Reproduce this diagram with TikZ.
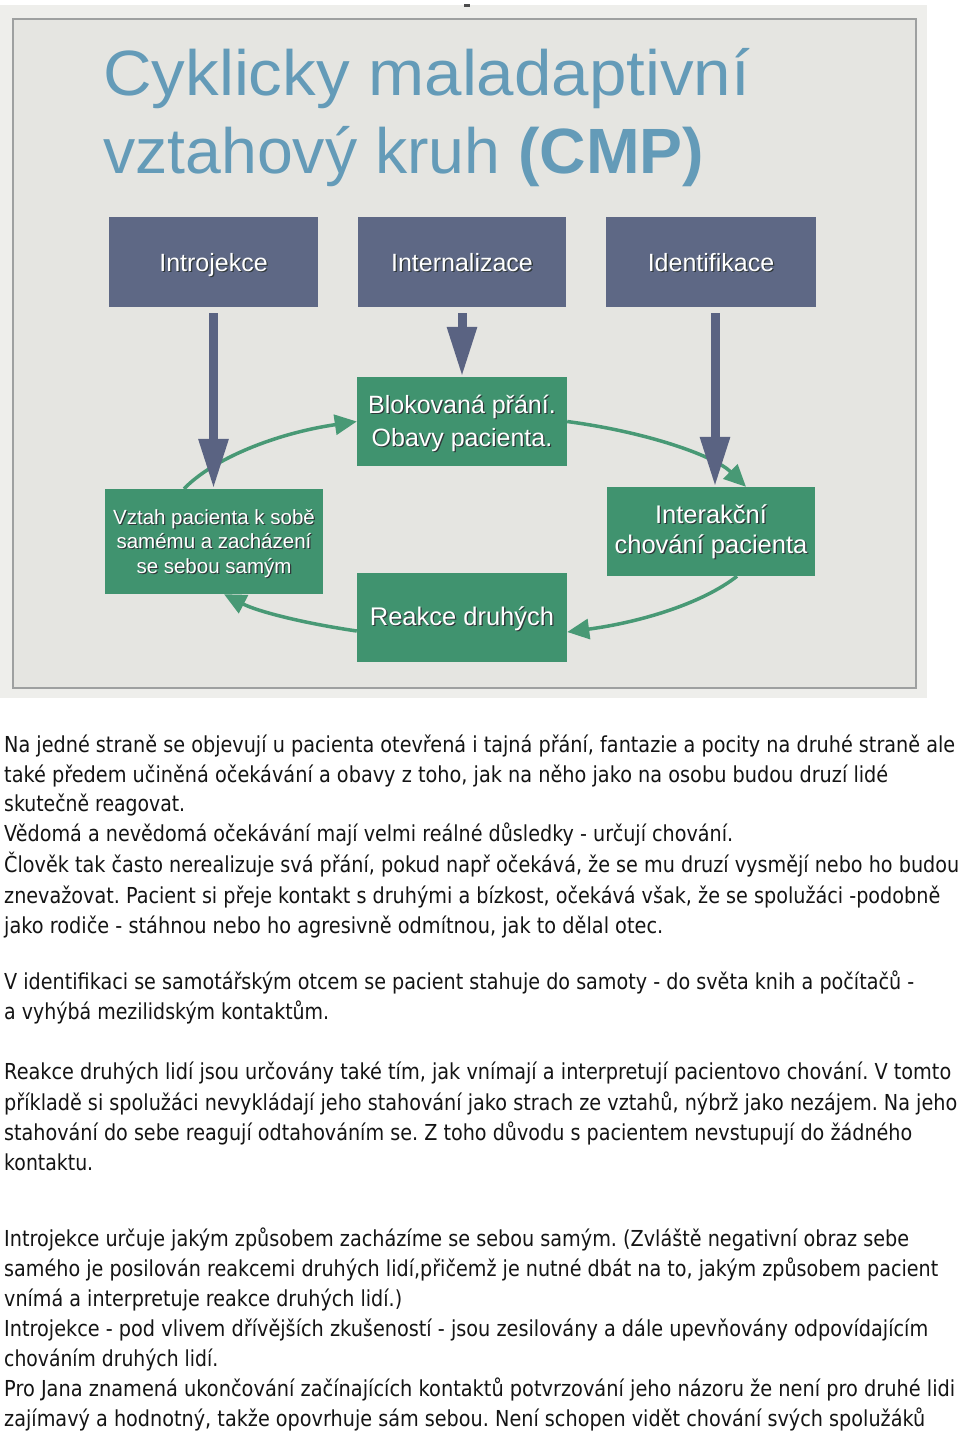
\documentclass[tikz,border=0pt]{standalone}
\usepackage{fontspec}
\usepackage{graphicx}
\usetikzlibrary{arrows.meta}
\setmainfont{DejaVu Sans}
\newfontfamily\arialf{Liberation Sans}
\frenchspacing
\definecolor{slidebg}{RGB}{229,229,225}
\definecolor{slideout}{RGB}{238,238,235}
\definecolor{framec}{RGB}{158,160,160}
\definecolor{titlec}{RGB}{100,155,184}
\definecolor{slatec}{RGB}{94,104,133}
\definecolor{arrowc}{RGB}{90,99,130}
\definecolor{greenc}{RGB}{64,147,111}
\definecolor{glinec}{RGB}{72,153,117}
\definecolor{shadc}{RGB}{48,56,58}
\definecolor{bodyc}{RGB}{20,20,20}
\newlength\fitlen
\newcommand\fitw[2]{\settowidth\fitlen{#2}\pgfmathsetmacro\fitfac{#1/\fitlen}\scalebox{\fitfac}[1]{#2}}
\newcommand\sh[1]{\leavevmode\rlap{\kern1.3pt\raisebox{-1.3pt}{\textcolor{shadc}{#1}}}#1}
\tikzset{
  bluebox/.style={fill=slatec, draw=none, inner sep=0, minimum height=90},
  greenbox/.style={fill=greenc, draw=none, inner sep=0},
  btext/.style={font=\arialf\fontsize{25}{32}\selectfont, text=white, inner sep=0, anchor=base},
  titletext/.style={font=\arialf\fontsize{64}{70}\selectfont, text=titlec, inner sep=0, anchor=base west},
  bodyline/.style={font=\fontsize{22}{30}\selectfont, text=bodyc, inner sep=0, anchor=base west},
  barrow/.style={draw=arrowc, line width=9pt, -{Triangle[length=50pt,width=28pt]}},
  garrow/.style={draw=glinec, line width=3.5pt, -{Triangle[length=22pt,width=20pt]}}
}
\begin{document}
\begin{tikzpicture}[x=1pt,y=-1pt]
\useasboundingbox (0,0) rectangle (960,1433);
\fill[white] (0,0) rectangle (960,1433);
% slide
\fill[slideout] (0,5) rectangle (927,698);
\fill[slidebg] (13,19) rectangle (916,688);
\draw[framec, line width=2.5pt] (13,19) rectangle (916,688);
\fill[black!70] (464,4) rectangle (470,6.5);
% title
\node[titletext] (t1) at (103,95) {\fitw{647}{Cyklicky maladaptivní}};
\node[titletext] (t2) at (103,173) {\fitw{601}{vztahový kruh \textbf{(CMP)}}};
% boxes
\node[bluebox, minimum width=209] (intro) at (213.5,262) {};
\node[bluebox, minimum width=208] (internal) at (462,262) {};
\node[bluebox, minimum width=210] (ident) at (711,262) {};
\node[greenbox, minimum width=210, minimum height=89] (blok) at (462,421.5) {};
\node[greenbox, minimum width=218, minimum height=105] (vztah) at (214,541.5) {};
\node[greenbox, minimum width=208, minimum height=89] (inter) at (711,531.5) {};
\node[greenbox, minimum width=210, minimum height=89] (reakce) at (462,617.5) {};
% box texts
\node[btext] (intro-t) at (213.5,271) {\sh{Introjekce}};
\node[btext] (internal-t) at (462,271) {\sh{Internalizace}};
\node[btext] (ident-t) at (711,271) {\sh{Identifikace}};
\node[btext, font=\arialf\fontsize{25}{33}\selectfont] (blok-t) at (462,413)
  {\begin{tabular}[t]{@{}c@{}}\sh{Blokovaná přání.}\\\sh{Obavy pacienta.}\end{tabular}};
\node[btext, font=\arialf\fontsize{25.5}{30}\selectfont] (inter-t) at (711,523)
  {\begin{tabular}[t]{@{}c@{}}\sh{Interakční}\\\sh{chování pacienta}\end{tabular}};
\node[btext, font=\arialf\fontsize{25.5}{30}\selectfont] (reakce-t) at (462,625) {\sh{Reakce druhých}};
\node[btext, font=\arialf\fontsize{20.5}{24.5}\selectfont] (vztah-t) at (214,524)
  {\begin{tabular}[t]{@{}c@{}}\sh{Vztah pacienta k sobě}\\\sh{samému a zacházení}\\\sh{se sebou samým}\end{tabular}};
% green cycle
\draw[garrow] ([xshift=-30pt]vztah.north) .. controls +(29.4,-30.4) and +(-80.7,11.8) .. (blok.west);
\draw[garrow] (blok.east) .. controls +(82.4,11.0) and +(-31.2,-30.5) .. ([xshift=35pt]inter.north);
\draw[garrow] ([xshift=26pt]inter.south) .. controls +(-34.0,26.8) and +(74.7,-10.0) .. ([yshift=-14.5pt]reakce.east);
\draw[garrow] ([yshift=-13.5pt]reakce.west) .. controls +(-53.4,-7.8) and +(33.7,17.3) .. ([xshift=10pt]vztah.south);
% blue arrows
\draw[barrow] ([yshift=-6pt]intro.south) -- (intro.south |- vztah.north);
\draw[barrow] ([yshift=-6pt]internal.south) -- (blok.north);
\draw[barrow] ([xshift=4pt,yshift=-6pt]ident.south) -- ([xshift=4pt]inter.north);
% body text
\node[bodyline] (l1) at (4,752) {\fitw{951}{Na jedné straně se objevují u pacienta otevřená i tajná přání, fantazie a pocity na druhé straně ale}};
\node[bodyline] (l2) at (4,782) {\fitw{884}{také předem učiněná očekávání a obavy z toho, jak na něho jako na osobu budou druzí lidé}};
\node[bodyline] (l3) at (4,811) {\fitw{181}{skutečně reagovat.}};
\node[bodyline] (l4) at (4,841) {\fitw{729}{Vědomá a nevědomá očekávání mají velmi reálné důsledky - určují chování.}};
\node[bodyline] (l5) at (4,872) {\fitw{955}{Člověk tak často nerealizuje svá přání, pokud např očekává, že se mu druzí vysmějí nebo ho budou}};
\node[bodyline] (l6) at (4,903) {\fitw{936}{znevažovat. Pacient si přeje kontakt s druhými a bízkost, očekává však, že se spolužáci -podobně}};
\node[bodyline] (l7) at (4,933) {\fitw{659}{jako rodiče - stáhnou nebo ho agresivně odmítnou, jak to dělal otec.}};
\node[bodyline] (l8) at (4,989) {\fitw{910}{V identifikaci se samotářským otcem se pacient stahuje do samoty - do světa knih a počítačů -}};
\node[bodyline] (l9) at (4,1019) {\fitw{325}{a vyhýbá mezilidským kontaktům.}};
\node[bodyline] (l10) at (4,1079) {\fitw{947}{Reakce druhých lidí jsou určovány také tím, jak vnímají a interpretují pacientovo chování. V tomto}};
\node[bodyline] (l11) at (4,1110) {\fitw{953}{příkladě si spolužáci nevykládají jeho stahování jako strach ze vztahů, nýbrž jako nezájem. Na jeho}};
\node[bodyline] (l12) at (4,1140) {\fitw{908}{stahování do sebe reagují odtahováním se. Z toho důvodu s pacientem nevstupují do žádného}};
\node[bodyline] (l13) at (4,1170) {\fitw{89}{kontaktu.}};
\node[bodyline] (l14) at (4,1246) {\fitw{905}{Introjekce určuje jakým způsobem zacházíme se sebou samým. (Zvláště negativní obraz sebe}};
\node[bodyline] (l15) at (4,1276) {\fitw{934}{samého je posilován reakcemi druhých lidí,přičemž je nutné dbát na to, jakým způsobem pacient}};
\node[bodyline] (l16) at (4,1306) {\fitw{398}{vnímá a interpretuje reakce druhých lidí.)}};
\node[bodyline] (l17) at (4,1336) {\fitw{924}{Introjekce - pod vlivem dřívějších zkušeností - jsou zesilovány a dále upevňovány odpovídajícím}};
\node[bodyline] (l18) at (4,1366) {\fitw{214}{chováním druhých lidí.}};
\node[bodyline] (l19) at (4,1396) {\fitw{951}{Pro Jana znamená ukončování začínajících kontaktů potvrzování jeho názoru že není pro druhé lidi}};
\node[bodyline] (l20) at (4,1426) {\fitw{921}{zajímavý a hodnotný, takže opovrhuje sám sebou. Není schopen vidět chování svých spolužáků}};
\end{tikzpicture}
\end{document}
